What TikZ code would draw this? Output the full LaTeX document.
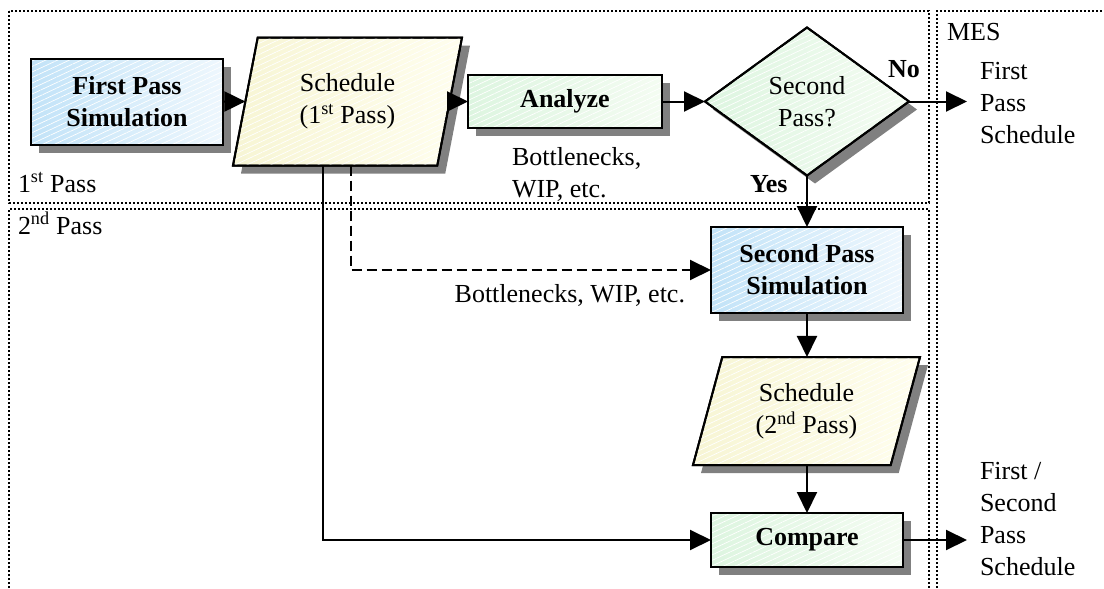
\documentclass[tikz,border=0pt]{standalone}
\usepackage{fontspec}
\setmainfont{Liberation Serif}
\usetikzlibrary{arrows.meta,shapes.geometric,shadows,patterns.meta}

\definecolor{blueL}{RGB}{194,227,248}
\definecolor{blueR}{RGB}{238,247,253}
\definecolor{greenL}{RGB}{221,245,224}
\definecolor{greenR}{RGB}{244,252,242}
\definecolor{yellowL}{RGB}{247,245,212}
\definecolor{yellowR}{RGB}{255,254,238}
\definecolor{shadowgray}{RGB}{128,128,128}

\tikzset{
  shapebase/.style={draw=black, line width=2pt, inner sep=0pt, outer sep=0pt, align=center,
    drop shadow={shadow xshift=8pt, shadow yshift=-8pt, fill=shadowgray, opacity=1},
    postaction={pattern={Lines[angle=25,distance=5pt,line width=0.7pt]}, pattern color=white, fill opacity=0.8},
    postaction={draw=black, line width=2pt}},
  bluefill/.style={left color=blueL, right color=blueR},
  greenfill/.style={left color=greenL, right color=greenR},
  yellowfill/.style={left color=yellowL, right color=yellowR},
  procbox/.style={shapebase, rectangle, font=\bfseries\fontsize{26}{32}\selectfont},
  databox/.style={shapebase, yellowfill, trapezium, trapezium stretches body},
  decbox/.style={shapebase, greenfill, diamond, aspect=1.38},
  conn/.style={line width=2pt, -{Triangle[length=21pt,width=20pt]}},
  dashconn/.style={conn, dash pattern=on 10pt off 5pt},
  zone/.style={line width=1.6pt, dash pattern=on 1.6pt off 2.4pt},
  lbl/.style={inner sep=0pt, outer sep=0pt, align=left},
  boldlbl/.style={lbl, font=\bfseries\fontsize{26}{32}\selectfont}
}

\begin{document}
\begin{tikzpicture}[x=1pt, y=-1pt, font=\fontsize{26}{32}\selectfont]
\useasboundingbox (0,0) rectangle (1104,589);
\clip (0,0) rectangle (1104,589);

% swimlane borders
\draw[zone] (9,11) rectangle (929,203);
\draw[zone] (9,600) -- (9,209) -- (929,209) -- (929,600);
\draw[zone] (937,600) -- (937,11) -- (1110,11);

% lane titles
\node[lbl, anchor=base west] (lane1) at (18,192) {1\textsuperscript{st} Pass};
\node[lbl, anchor=base west] (lane2) at (18,234) {2\textsuperscript{nd} Pass};
\node[lbl, anchor=base west] (lane3) at (947,40) {MES};

% flowchart steps
\node[procbox, bluefill, minimum width=192pt, minimum height=86pt] (fps) at (127,101.5) {First Pass\\Simulation};
\node[databox, minimum width=229pt, minimum height=128pt, trapezium left angle=66, trapezium right angle=114] (s1) at (347.5,101.5) {Schedule\\(1\textsuperscript{st} Pass)};
\node[procbox, greenfill, minimum width=194pt, minimum height=53pt] (an) at (565,101.5) {Analyze};
\node[decbox, minimum width=204pt, minimum height=148pt] (d) at (807,101.5) {Second\\Pass?};
\node[procbox, bluefill, minimum width=192pt, minimum height=86pt] (sps) at (807,270) {Second Pass\\Simulation};
\node[databox, minimum width=227pt, minimum height=108pt, trapezium left angle=62.2, trapezium right angle=117.8] (s2) at (806.5,411) {Schedule\\(2\textsuperscript{nd} Pass)};
\node[procbox, greenfill, minimum width=192pt, minimum height=54pt] (cmp) at (807,540) {Compare};

% free labels
\node[lbl, anchor=north west] (bn1) at (512,147) {Bottlenecks,\\WIP, etc.};
\node[lbl, anchor=base east] (bn2) at (685,302) {Bottlenecks, WIP, etc.};
\node[boldlbl, anchor=base west] (no) at (888,77) {No};
\node[boldlbl, anchor=base west] (yes) at (750,192) {Yes};
\node[lbl, anchor=north west] (out1) at (980,62) {First\\Pass\\Schedule};
\node[lbl, anchor=north west] (out2) at (980,462) {First /\\Second\\Pass\\Schedule};

% connectors
\coordinate (noend) at (967,101.5);
\coordinate (cmpend) at (967,540);
\coordinate (dashturn) at (351,270);
\coordinate (solidturn) at (323,540);

\draw[conn] (fps.east) -- (s1.west);
\draw[conn] (s1.east) -- (an.west);
\draw[conn] (an.east) -- (d.west);
\draw[conn] (d.east) -- (noend);
\draw[conn] (d.south) -- (sps.north);
\draw[conn] (sps.south) -- (sps.south |- s2.north);
\draw[conn] (cmp.north |- s2.south) -- (cmp.north);
\draw[conn] (cmp.east) -- (cmpend);
\draw[dashconn] (s1.south -| dashturn) -- (dashturn) -- (sps.west);
\draw[conn] (s1.south -| solidturn) -- (solidturn) -- (cmp.west);
\end{tikzpicture}
\end{document}
